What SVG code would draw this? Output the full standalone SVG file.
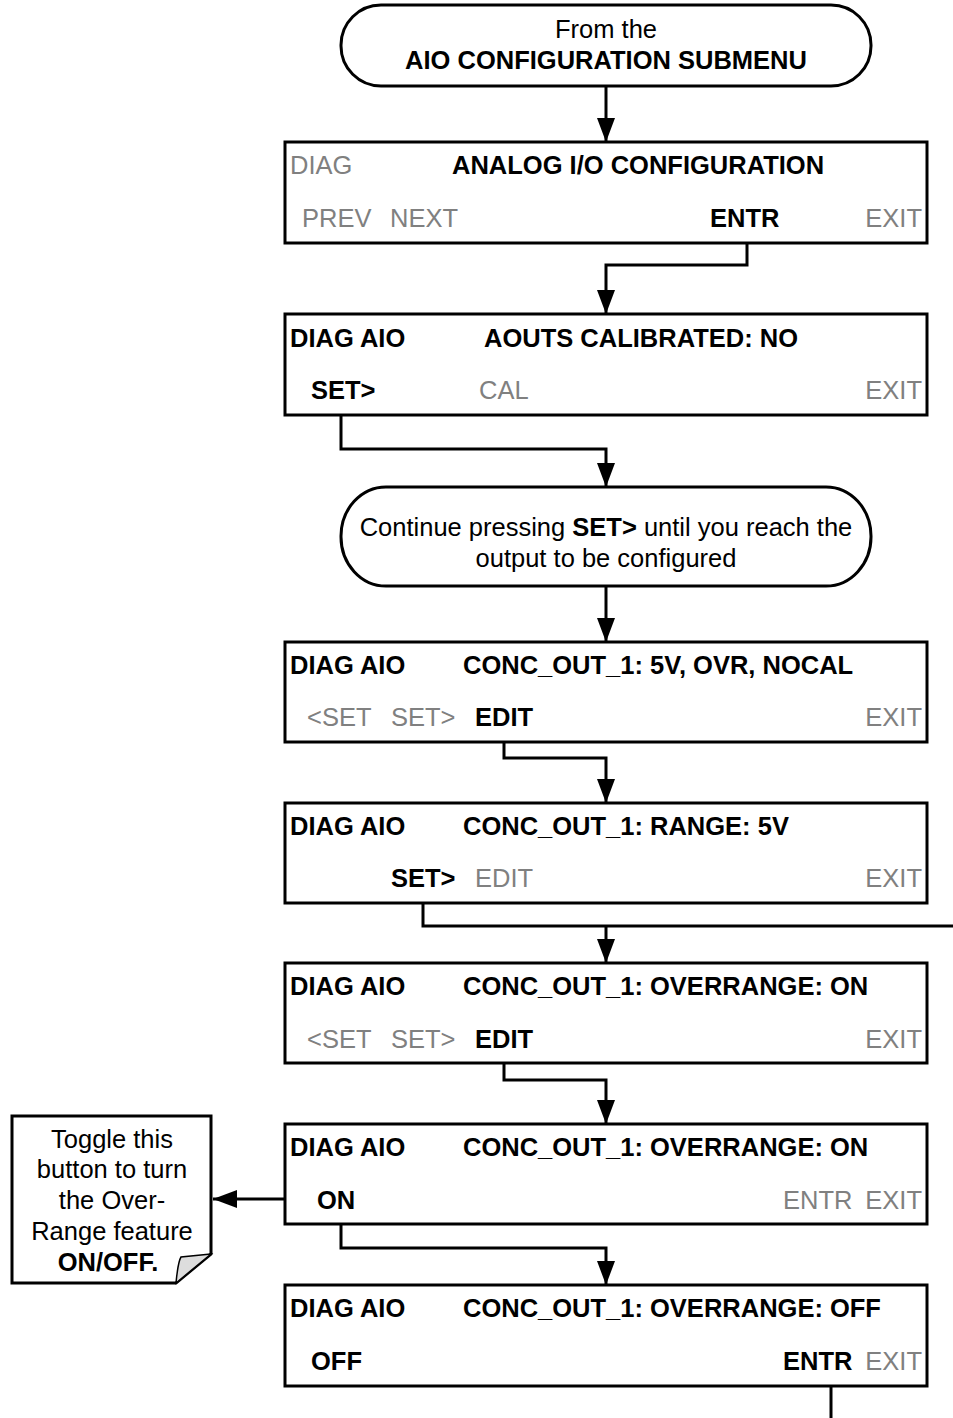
<svg xmlns="http://www.w3.org/2000/svg" width="953" height="1418" viewBox="0 0 953 1418">
<style>
text{font-family:"Liberation Sans",Arial,sans-serif;font-size:25.5px;fill:#000}
.b{font-weight:bold}
.g{fill:#808080}
.m{text-anchor:middle}
.e{text-anchor:end}
.box{fill:#fff;stroke:#000;stroke-width:3}
.ln{fill:none;stroke:#000;stroke-width:3}
</style>
<defs>
<marker id="ah" markerUnits="userSpaceOnUse" viewBox="0 0 24 18" refX="24" refY="9" markerWidth="24" markerHeight="18" orient="auto">
<path d="M0,0 L24,9 L0,18 z" fill="#000"/>
</marker>
</defs>
<rect width="953" height="1418" fill="#fff"/>

<g id="connectors">
<path class="ln" marker-end="url(#ah)" d="M606,86 V142"/>
<path class="ln" marker-end="url(#ah)" d="M747,243 V265 H606 V314"/>
<path class="ln" marker-end="url(#ah)" d="M341,415 V449 H606 V487"/>
<path class="ln" marker-end="url(#ah)" d="M606,586 V642"/>
<path class="ln" marker-end="url(#ah)" d="M504,733 V758 H606 V803"/>
<path class="ln" d="M423,894 V926 H953"/>
<path class="ln" marker-end="url(#ah)" d="M606,926 V963"/>
<path class="ln" marker-end="url(#ah)" d="M504,1055 V1080 H606 V1124"/>
<path class="ln" marker-end="url(#ah)" d="M296,1199 H213"/>
<path class="ln" marker-end="url(#ah)" d="M341,1215 V1248 H606 V1285"/>
<path class="ln" d="M831,1386 V1418"/>
</g>

<g id="start">
<rect class="box" x="341" y="5" width="530" height="81" rx="40" ry="40"/>
<text class="m" x="606" y="38">From the</text>
<text class="m b" x="606" y="69">AIO CONFIGURATION SUBMENU</text>
</g>

<g id="aio-config">
<rect class="box" x="285" y="142" width="642" height="101"/>
<text class="g" x="290" y="174">DIAG</text>
<text class="b" x="452" y="174">ANALOG I/O CONFIGURATION</text>
<text class="g" x="302" y="227">PREV</text>
<text class="g" x="390" y="227">NEXT</text>
<text class="b" x="710" y="227">ENTR</text>
<text class="g e" x="922" y="227">EXIT</text>
</g>

<g id="aouts-calibrated">
<rect class="box" x="285" y="314" width="642" height="101"/>
<text class="b" x="290" y="347">DIAG AIO</text>
<text class="b" x="484" y="347">AOUTS CALIBRATED: NO</text>
<text class="b" x="311" y="399">SET&gt;</text>
<text class="g" x="479" y="399">CAL</text>
<text class="g e" x="922" y="399">EXIT</text>
</g>

<g id="continue">
<rect class="box" x="341" y="487" width="530" height="99" rx="45" ry="49"/>
<text class="m" x="606" y="536">Continue pressing <tspan class="b">SET&gt;</tspan> until you reach the</text>
<text class="m" x="606" y="567">output to be configured</text>
</g>

<g id="conc-out-summary">
<rect class="box" x="285" y="642" width="642" height="100"/>
<text class="b" x="290" y="674">DIAG AIO</text>
<text class="b" x="463" y="674">CONC_OUT_1: 5V, OVR, NOCAL</text>
<text class="g" x="307" y="726">&lt;SET</text>
<text class="g" x="391" y="726">SET&gt;</text>
<text class="b" x="475" y="726">EDIT</text>
<text class="g e" x="922" y="726">EXIT</text>
</g>

<g id="conc-out-range">
<rect class="box" x="285" y="803" width="642" height="100"/>
<text class="b" x="290" y="835">DIAG AIO</text>
<text class="b" x="463" y="835">CONC_OUT_1: RANGE: 5V</text>
<text class="b" x="391" y="887">SET&gt;</text>
<text class="g" x="475" y="887">EDIT</text>
<text class="g e" x="922" y="887">EXIT</text>
</g>

<g id="conc-out-overrange">
<rect class="box" x="285" y="963" width="642" height="100"/>
<text class="b" x="290" y="995">DIAG AIO</text>
<text class="b" x="463" y="995">CONC_OUT_1: OVERRANGE: ON</text>
<text class="g" x="307" y="1048">&lt;SET</text>
<text class="g" x="391" y="1048">SET&gt;</text>
<text class="b" x="475" y="1048">EDIT</text>
<text class="g e" x="922" y="1048">EXIT</text>
</g>

<g id="overrange-edit-on">
<rect class="box" x="285" y="1124" width="642" height="100"/>
<text class="b" x="290" y="1156">DIAG AIO</text>
<text class="b" x="463" y="1156">CONC_OUT_1: OVERRANGE: ON</text>
<text class="b" x="317" y="1209">ON</text>
<text class="g" x="783" y="1209">ENTR</text>
<text class="g e" x="922" y="1209">EXIT</text>
</g>

<g id="overrange-edit-off">
<rect class="box" x="285" y="1285" width="642" height="101"/>
<text class="b" x="290" y="1317">DIAG AIO</text>
<text class="b" x="463" y="1317">CONC_OUT_1: OVERRANGE: OFF</text>
<text class="b" x="311" y="1370">OFF</text>
<text class="b" x="783" y="1370">ENTR</text>
<text class="g e" x="922" y="1370">EXIT</text>
</g>

<g id="note">
<path class="box" d="M12,1116 H211 V1254 L176,1283 H12 Z"/>
<path d="M176,1283 Q178,1262 181,1257 L211,1254 Z" fill="#ddd" stroke="#000" stroke-width="1.5"/>
<text class="m" x="112" y="1148">Toggle this</text>
<text class="m" x="112" y="1178">button to turn</text>
<text class="m" x="112" y="1209">the Over-</text>
<text class="m" x="112" y="1240">Range feature</text>
<text class="m b" x="108" y="1271">ON/OFF.</text>
</g>
</svg>
